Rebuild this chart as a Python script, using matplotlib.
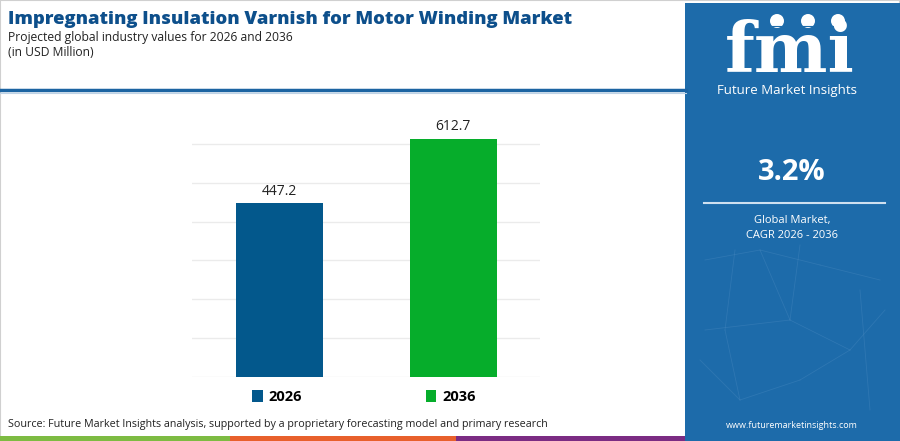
import matplotlib
matplotlib.use("Agg")
import matplotlib.pyplot as plt
from matplotlib.patches import Rectangle, Ellipse, Patch
from matplotlib.lines import Line2D

years = ["2026", "2036"]
values = [447.2, 612.7]
bar_colors = ["#03588C", "#06AD2B"]
yticks = [0, 100, 200, 300, 400, 500, 600]

title = "Impregnating Insulation Varnish for Motor Winding Market"
subtitle = "Projected global industry values for 2026 and 2036"
unit = "(in USD Million)"
cagr = "3.2%"
cagr_label = "Global Market,\nCAGR 2026 - 2036"
source = "Source: Future Market Insights analysis, supported by a proprietary forecasting model and primary research"

W, H = 900, 441
fig = plt.figure(figsize=(W / 100, H / 100), dpi=100)
fig.patch.set_facecolor("white")

def fx(x):
    return x / W

def fy(y):
    return 1 - y / H

# outer light border
fig.add_artist(Rectangle((0, 0), 1, 1, transform=fig.transFigure, fill=False,
                         edgecolor="#D0D0D0", linewidth=1.5))

# header
fig.text(fx(8), fy(20), title, fontsize=13.3, fontweight="heavy", color="#0D4F8B",
         family="Open Sans", va="center", ha="left")
fig.text(fx(8), fy(38), subtitle, fontsize=8.7, color="#222222",
         family="Open Sans", va="center", ha="left")
fig.text(fx(8), fy(52), unit, fontsize=8.7, color="#222222",
         family="Open Sans", va="center", ha="left")
fig.add_artist(Line2D([0, fx(686)], [fy(90), fy(90)], transform=fig.transFigure,
                      color="#1C64A2", linewidth=2.5))
fig.add_artist(Line2D([0, fx(686)], [fy(93), fy(93)], transform=fig.transFigure,
                      color="#BFD3E6", linewidth=0.8))

# chart
ax = fig.add_axes([fx(192), fy(377), fx(540 - 192), (377 - 105) / H])
ax.bar(range(len(years)), values, width=0.5, color=bar_colors, zorder=3)
for i, v in enumerate(values):
    ax.text(i, v + 12, f"{v:.1f}", ha="center", va="bottom", fontsize=10,
            color="#222222", family="Open Sans")
ax.set_xlim(-0.5, 1.5)
ax.set_ylim(0, 700)
ax.set_yticks(yticks)
ax.yaxis.grid(True, color="#EBEBEB", linewidth=1)
ax.set_xticks([])
ax.tick_params(left=False, labelleft=False)
for s in ax.spines.values():
    s.set_visible(False)

handles = [Patch(facecolor=c, label=y) for c, y in zip(bar_colors, years)]
leg = fig.legend(handles=handles, loc="center", bbox_to_anchor=(fx(364), fy(397)),
                 ncol=2, frameon=False, handlelength=0.7, handleheight=0.9,
                 handletextpad=0.4, columnspacing=8.5,
                 prop={"family": "Open Sans", "weight": "bold", "size": 10.5})

fig.text(fx(8), fy(425), source, fontsize=7.75, color="#222222",
         family="Open Sans", va="center", ha="left")

# bottom stripes
for x0, x1, c in [(0, 230, "#7DBB42"), (230, 456, "#E8602C"), (456, 686, "#7B2C83")]:
    fig.add_artist(Rectangle((fx(x0), 0), fx(x1 - x0), 5 / H, transform=fig.transFigure,
                             facecolor=c, edgecolor="none"))

# right panel
panel_c = "#1D6BAA"
fig.add_artist(Rectangle((fx(685), 0), fx(W - 685), fy(3), transform=fig.transFigure,
                         facecolor=panel_c, edgecolor="none"))

# faint network decoration
net = [((705, 260), (760, 250)), ((760, 250), (820, 265)), ((820, 265), (880, 280)),
       ((735, 250), (725, 330)), ((725, 330), (740, 400)), ((800, 245), (790, 320)),
       ((790, 320), (850, 350)), ((850, 350), (885, 310)), ((705, 330), (790, 320)),
       ((740, 400), (800, 380)), ((800, 380), (850, 350)), ((860, 290), (870, 410)),
       ((760, 250), (790, 320)), ((700, 360), (740, 400))]
for (x0, y0), (x1, y1) in net:
    fig.add_artist(Line2D([fx(x0), fx(x1)], [fy(y0), fy(y1)], transform=fig.transFigure,
                          color="#4F8DC2", linewidth=0.6, alpha=0.35))

# logo: striped "fmi"
fig.text(fx(790), fy(52), "fmi", fontsize=50, fontweight="bold", family="DejaVu Serif",
         color="white", ha="center", va="center")
for yy in range(26, 80, 4):
    fig.add_artist(Line2D([fx(718), fx(862)], [fy(yy), fy(yy)], transform=fig.transFigure,
                          color=panel_c, linewidth=0.8))
for cx in (777, 808, 838):
    fig.add_artist(Ellipse((fx(cx), fy(21)), 14 / W, 14 / H, transform=fig.transFigure,
                           facecolor="white", edgecolor="none"))
fig.text(fx(787), fy(91), "Future Market Insights", fontsize=9.5, color="white",
         family="Open Sans", ha="center", va="center")

fig.text(fx(792), fy(172), cagr, fontsize=21, fontweight="bold", color="white",
         family="Open Sans", ha="center", va="center")
fig.add_artist(Line2D([fx(704), fx(885)], [fy(203), fy(203)], transform=fig.transFigure,
                      color="#CFE0F0", linewidth=1.5))
fig.text(fx(792), fy(228), cagr_label, fontsize=8, color="white", family="Open Sans",
         ha="center", va="center", linespacing=1.5)
fig.text(fx(792), fy(425), "www.futuremarketinsights.com", fontsize=6.5, color="white",
         family="Open Sans", ha="center", va="center")

fig.savefig("out.png", dpi=100)
